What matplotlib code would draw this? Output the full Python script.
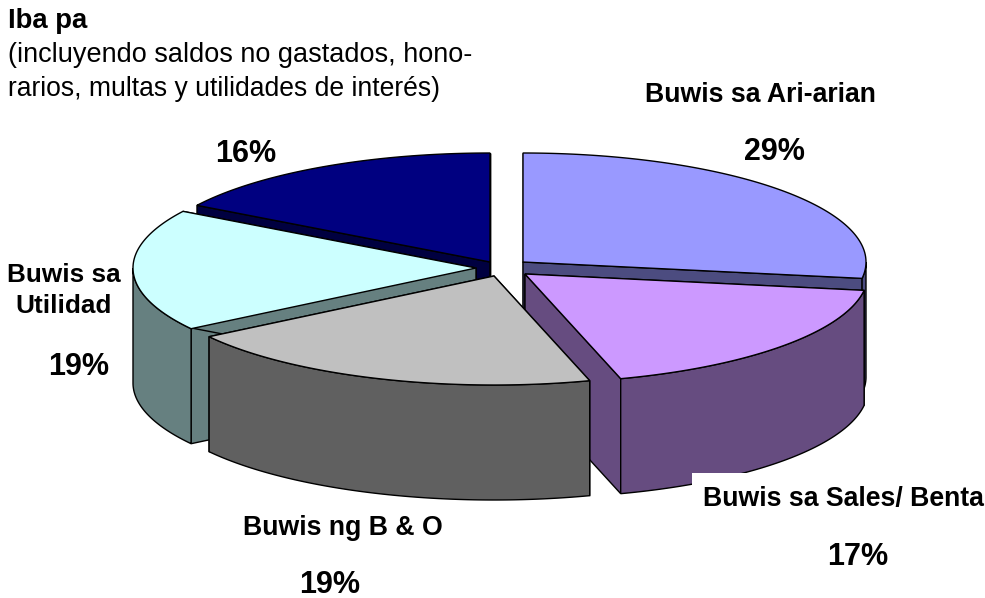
"""Exploded 3D-look pie of tax revenue shares, drawn on a pixel canvas."""

import numpy as np
import matplotlib
matplotlib.use('Agg')
import matplotlib.pyplot as plt
from matplotlib.patches import Polygon, Rectangle

plt.rcParams['font.family'] = ['Liberation Sans', 'DejaVu Sans']

# Shares as measured from the slice angles, clockwise from 12 o'clock
slice_names = ['Ari-arian', 'Sales', 'B & O', 'Utilidad', 'Iba pa']
slice_shares = [27.4, 18.1, 20.1, 18.1, 16.3]
slice_labels = ['29%', '17%', '19%', '19%', '16%']
top_colors = ['#9999FF', '#CC99FF', '#C0C0C0', '#CCFFFF', '#000080']
side_colors = ['#4C4C80', '#664C80', '#606060', '#668080', '#000040']

# Apex of each exploded slice, in image pixels
apex_x = [523, 525, 494, 476, 490]
apex_y = [262, 274, 276, 268, 262]

RX, RY, DEPTH = 343, 109, 115
DRAW_ORDER = [0, 4, 3, 1, 2]  # back to front


def rim(cx, cy, a0, a1):
    """Points on the top rim between two clockwise angles (degrees)."""
    t = np.radians(np.linspace(a0, a1, 120))
    return np.column_stack([cx + RX * np.sin(t), cy - RY * np.cos(t)])


def face(ax, pts, color):
    ax.add_patch(Polygon(pts, closed=True, facecolor=color, edgecolor='black',
                         linewidth=1.0, joinstyle='miter'))


def draw_slice(ax, i, a0, a1):
    cx, cy = apex_x[i], apex_y[i]
    top = rim(cx, cy, a0, a1)
    down = np.array([0, DEPTH])

    # two cut faces
    for p in (top[0], top[-1]):
        a = np.array([cx, cy])
        face(ax, [a, p, p + down, a + down], side_colors[i])

    # outer wall, only the part that faces the viewer
    lo, hi = max(a0, 90), min(a1, 270)
    if lo < hi:
        wall = rim(cx, cy, lo, hi)
        face(ax, np.vstack([wall, wall[::-1] + down]), side_colors[i])

    face(ax, np.vstack([[cx, cy], top]), top_colors[i])


fig = plt.figure(figsize=(9.85, 5.98), dpi=100)
ax = fig.add_axes([0, 0, 1, 1])
ax.set_xlim(0, 985)
ax.set_ylim(598, 0)
ax.axis('off')

edges = np.concatenate([[0], np.cumsum(slice_shares)]) / sum(slice_shares) * 360
for i in DRAW_ORDER:
    draw_slice(ax, i, edges[i], edges[i + 1])

# white label box that sits over the front of the pie
ax.add_patch(Rectangle((692, 473), 293, 60, facecolor='white', edgecolor='none', zorder=3))

name_size = 19.2
pct_size = 22
ax.text(8, 28, 'Iba pa', fontsize=19.8, fontweight='bold', va='baseline', zorder=4)
ax.text(8, 62, '(incluyendo saldos no gastados, hono-', fontsize=19.5, va='baseline', zorder=4)
ax.text(8, 96, 'rarios, multas y utilidades de interés)', fontsize=19.1, va='baseline', zorder=4)

names = [('Buwis sa Ari-arian', 760, 95), ('Buwis sa', 64, 275), ('Utilidad', 64, 306),
         ('Buwis ng B & O', 343, 528), ('Buwis sa Sales/ Benta', 843, 499)]
for s, x, y in names:
    size = 18.8 if x == 64 else name_size
    ax.text(x, y, s, fontsize=size, fontweight='bold', ha='center', va='center', zorder=4)

pct_pos = [(774, 152), (858, 557), (330, 585), (79, 367), (246, 154)]
for s, (x, y) in zip(slice_labels, pct_pos):
    ax.text(x, y, s, fontsize=pct_size, fontweight='bold', ha='center', va='center', zorder=4)

fig.savefig('out.png', dpi=100)
plt.close(fig)
